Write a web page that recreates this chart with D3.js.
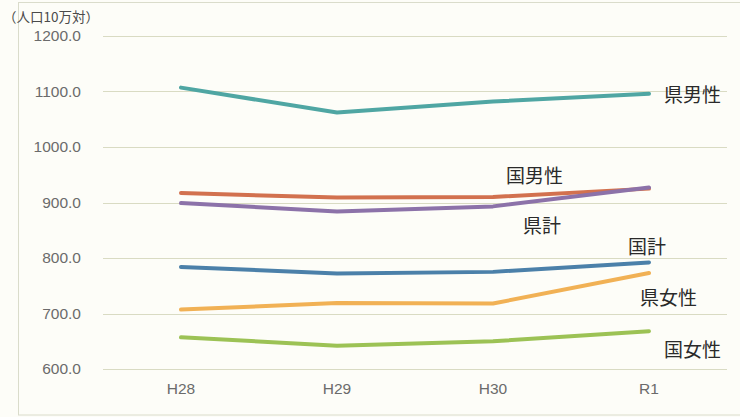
<!DOCTYPE html>
<html>
<head>
<meta charset="utf-8">
<script src="https://cdn.jsdelivr.net/npm/d3@7/dist/d3.min.js"></script>
<style>
  html, body { margin: 0; padding: 0; background: #fdfdf8; }
  svg { display: block; }
</style>
</head>
<body>
<svg id="chart" width="740" height="417"></svg>
<script>
// Categories (fiscal years) and y-axis ticks
const years = ["H28", "H29", "H30", "R1"];
const yTicks = [600, 700, 800, 900, 1000, 1100, 1200];

// Rates per 100,000 population
const prefMale   = [1107, 1062, 1082, 1096];   // 県男性
const natMale    = [917, 909, 910, 925];       // 国男性
const prefTotal  = [899, 884, 893, 927];       // 県計
const natTotal   = [784, 772, 775, 792];       // 国計
const prefFemale = [707, 719, 718, 773];       // 県女性
const natFemale  = [657, 642, 650, 668];       // 国女性

const seriesNames = ["県男性", "国男性", "県計", "国計", "県女性", "国女性"];
const seriesValues = [prefMale, natMale, prefTotal, natTotal, prefFemale, natFemale];
const seriesColors = ["#4fa6a3", "#d2714f", "#8c72a9", "#4b80a9", "#f1b155", "#9cc255"];
// label positions
const labelPos = [
  { x: 664, y: 93 },
  { x: 506, y: 174 },
  { x: 523, y: 224 },
  { x: 628, y: 245 },
  { x: 640, y: 296 },
  { x: 664, y: 348 }
];

const svg = d3.select("#chart");

const x = d3.scaleBand().domain(years).range([103, 727]);
const y = d3.scaleLinear().domain([600, 1200]).range([369, 36]);

// outer frame
svg.append("rect")
  .attr("x", 18.5).attr("y", 2.5)
  .attr("width", 730).attr("height", 412.5)
  .attr("fill", "none")
  .attr("stroke", "#dadccb")
  .attr("stroke-width", 1);

// gridlines
svg.append("g")
  .selectAll("line")
  .data(yTicks)
  .join("line")
  .attr("x1", 103).attr("x2", 727)
  .attr("y1", d => Math.round(y(d)) + 0.5)
  .attr("y2", d => Math.round(y(d)) + 0.5)
  .attr("stroke", "#d9dbc3")
  .attr("stroke-width", 1);

// y axis labels
const yAxis = d3.axisLeft(y).tickValues(yTicks).tickSize(0).tickPadding(0)
  .tickFormat(d3.format(".1f"));
const gy = svg.append("g").attr("transform", "translate(81,0)").call(yAxis);
gy.select(".domain").remove();
gy.selectAll("text")
  .attr("fill", "#6b6b6b")
  .attr("font-family", "'Liberation Sans', Arial, sans-serif")
  .attr("font-size", 15.5);

// x axis labels
const xAxis = d3.axisBottom(x).tickSize(0).tickPadding(0);
const gx = svg.append("g").attr("transform", "translate(0,383)").call(xAxis);
gx.select(".domain").remove();
gx.selectAll("text")
  .attr("fill", "#6b6b6b")
  .attr("font-family", "'Liberation Sans', Arial, sans-serif")
  .attr("font-size", 15.5);

// unit label
svg.append("text")
  .attr("x", 3).attr("y", 22)
  .attr("fill", "#4a4a4a")
  .attr("font-family", "'Noto Sans CJK JP', sans-serif")
  .attr("font-size", 13.5)
  .text("（人口10万対）");

// lines
const line = d3.line()
  .x((d, i) => x(years[i]) + x.bandwidth() / 2)
  .y(d => y(d));

svg.append("g")
  .selectAll("path")
  .data(seriesValues)
  .join("path")
  .attr("d", d => line(d))
  .attr("fill", "none")
  .attr("stroke", (d, i) => seriesColors[i])
  .attr("stroke-width", 4)
  .attr("stroke-linecap", "round")
  .attr("stroke-linejoin", "round");

// series labels
svg.append("g")
  .selectAll("text")
  .data(seriesNames)
  .join("text")
  .attr("x", (d, i) => labelPos[i].x)
  .attr("y", (d, i) => labelPos[i].y)
  .attr("dominant-baseline", "central")
  .attr("fill", "#2a2a2a")
  .attr("font-family", "'Noto Sans CJK JP', sans-serif")
  .attr("font-size", 19)
  .text(d => d);
</script>
</body>
</html>
